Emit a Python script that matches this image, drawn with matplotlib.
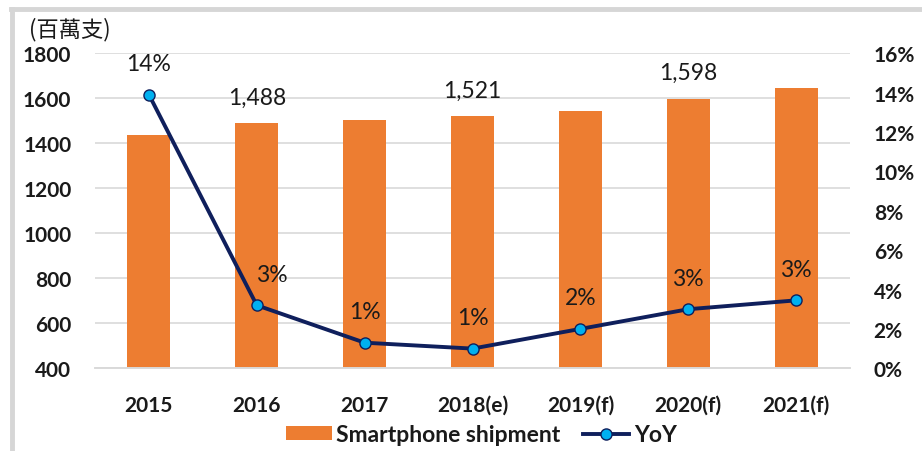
import matplotlib
matplotlib.use("Agg")
import matplotlib.pyplot as plt
from matplotlib.lines import Line2D

# Data
years = ["2015", "2016", "2017", "2018(e)", "2019(f)", "2020(f)", "2021(f)"]
shipment = [1438, 1488, 1504, 1521, 1544, 1598, 1646]
shipment_labels = {1: "1,488", 3: "1,521", 5: "1,598"}
yoy = [13.9, 3.2, 1.3, 1.0, 2.0, 3.0, 3.45]

BAR_COLOR = "#ED7D31"
LINE_COLOR = "#0F1F5C"
MARKER_COLOR = "#00B0F0"
GRID_COLOR = "#D9D9D9"
TEXT_COLOR = "#1A1A1A"

plt.rcParams["font.family"] = ["Lato", "DejaVu Sans"]

fig = plt.figure(figsize=(9.22, 4.52), dpi=100)
ax = fig.add_axes([0.103, 0.183, 0.819, 0.697])
ax2 = ax.twinx()

x = list(range(len(years)))
bars = ax.bar(x, shipment, width=0.4, color=BAR_COLOR, zorder=2,
              label="Smartphone shipment")
ax.set_ylim(400, 1800)
ax.set_yticks(range(400, 1801, 200))
ax.set_xlim(-0.5, len(years) - 0.5)
ax.set_xticks(x)
ax.set_xticklabels(years)
ax.grid(axis="y", color=GRID_COLOR, linewidth=1.2, zorder=0)
ax.set_axisbelow(True)

for i, txt in shipment_labels.items():
    ax.annotate(txt, (i, shipment[i]), xytext=(0, 26), textcoords="offset pixels",
                ha="center", va="center", fontsize=16.5, color=TEXT_COLOR)

line, = ax2.plot(x, yoy, color=LINE_COLOR, linewidth=2.8, marker="o",
                 markersize=8, markerfacecolor=MARKER_COLOR,
                 markeredgecolor=LINE_COLOR, markeredgewidth=1, label="YoY",
                 zorder=3)
ax2.set_ylim(0, 16)
ax2.set_yticks(range(0, 17, 2))
ax2.set_yticklabels([f"{v}%" for v in range(0, 17, 2)])

for i, v in enumerate(yoy):
    dx = 15 if i == 1 else 0
    ax2.annotate(f"{v:.0f}%", (i, v), xytext=(dx, 31), textcoords="offset pixels",
                 ha="center", va="center", fontsize=16.5, color=TEXT_COLOR)

for a in (ax, ax2):
    for s in ("top", "left", "right"):
        a.spines[s].set_visible(False)
    a.spines["bottom"].set_color(GRID_COLOR)
    a.spines["bottom"].set_linewidth(1.2)

ax.tick_params(axis="y", length=0, pad=17, labelsize=15, labelcolor=TEXT_COLOR)
ax.tick_params(axis="x", length=0, pad=19, labelsize=15, labelcolor=TEXT_COLOR)
ax2.tick_params(axis="y", length=0, pad=17, labelsize=15, labelcolor=TEXT_COLOR)
for lab in ax.get_yticklabels() + ax.get_xticklabels() + ax2.get_yticklabels():
    lab.set_fontweight("bold")

fig.text(0.031, 0.935, "(百萬支)", fontsize=16, color=TEXT_COLOR, fontweight="medium",
         family=["Noto Sans CJK TC", "DejaVu Sans"], ha="left", va="center")

# light gray frame (left and top edges visible)
fig.add_artist(Line2D([0.0135, 0.0135], [0.0, 0.978], transform=fig.transFigure,
                      color="#D6D6D6", linewidth=3.5))
fig.add_artist(Line2D([0.0115, 1.0], [0.978, 0.978], transform=fig.transFigure,
                      color="#D6D6D6", linewidth=3.5))

leg_line = Line2D([], [], color=LINE_COLOR, linewidth=2.8, marker="o", markersize=8,
                  markerfacecolor=MARKER_COLOR, markeredgecolor=LINE_COLOR)
fig.legend([bars, leg_line], ["Smartphone shipment", "YoY"], loc="center",
           bbox_to_anchor=(0.522, 0.036), ncol=2, frameon=False,
           prop={"weight": "bold", "size": 16.5}, labelcolor=TEXT_COLOR,
           handlelength=2.0, handleheight=0.6, handletextpad=0.2, columnspacing=1.0)

fig.savefig("out.png", dpi=100)
